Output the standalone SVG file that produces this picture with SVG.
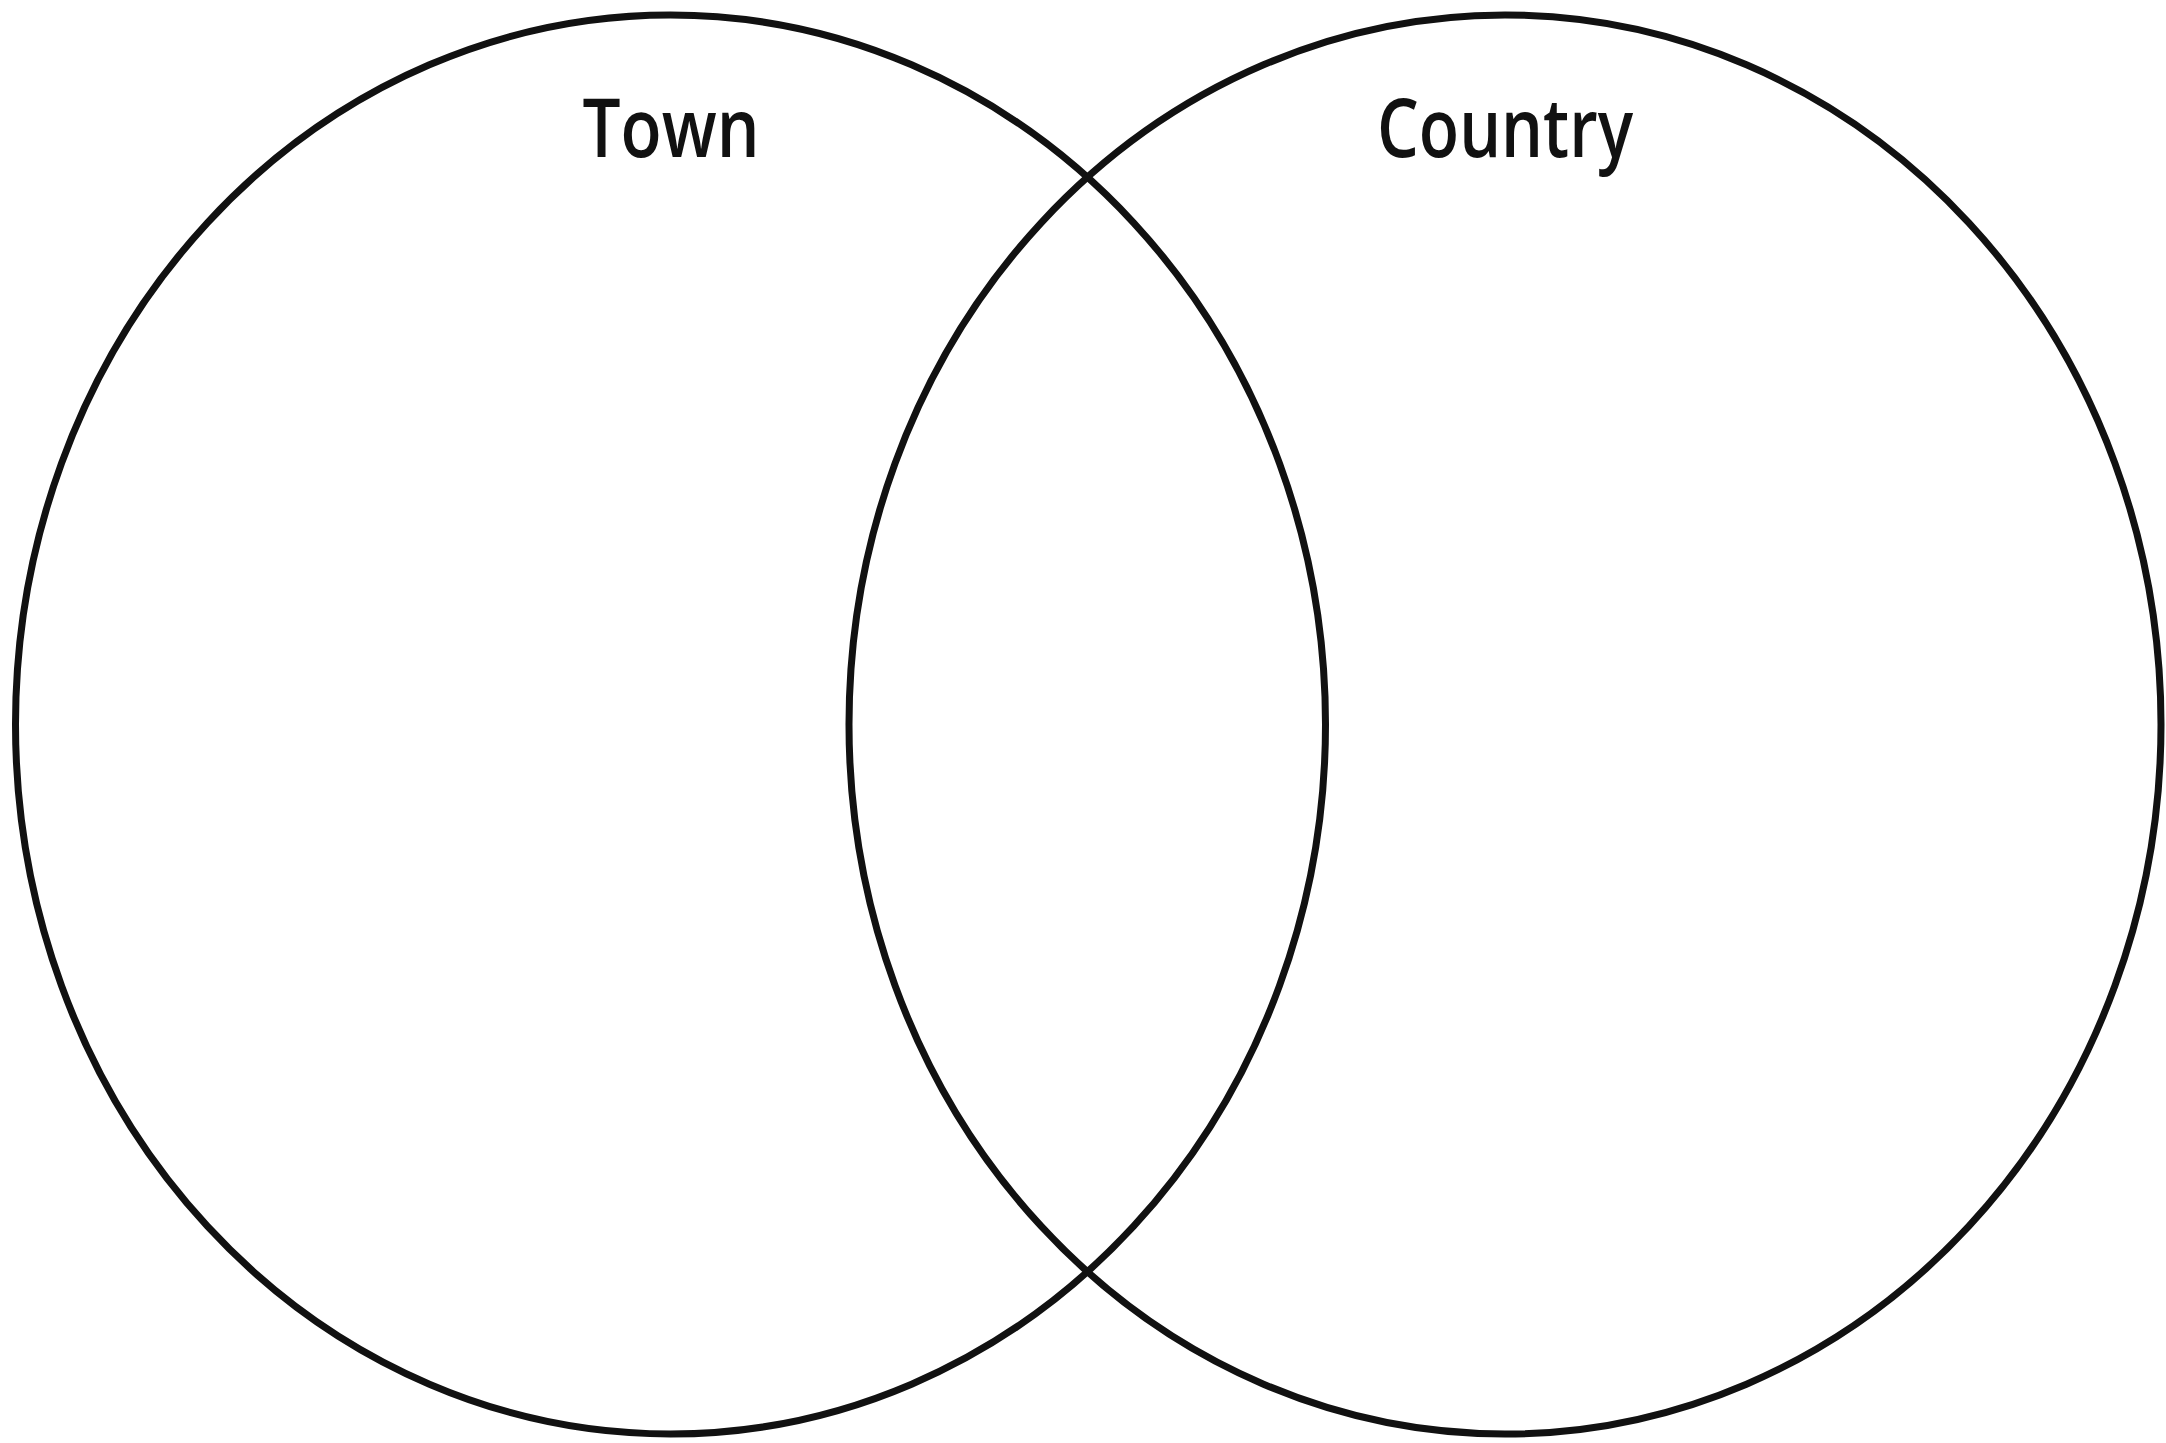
<svg xmlns="http://www.w3.org/2000/svg" width="2166" height="1443" viewBox="0 0 2166 1443">
<style>
.set{fill:none;stroke:#111;stroke-width:7}
.lbl{font-family:"Open Sans","Noto Sans","Liberation Sans",sans-serif;font-size:82px;font-weight:600;fill:#111;text-anchor:middle}
</style>
<rect width="2166" height="1443" fill="#fff"/>
<g id="town">
<ellipse class="set" cx="670.5" cy="724.5" rx="655" ry="709.5"/>
<text class="lbl" x="671" y="157" textLength="177" lengthAdjust="spacingAndGlyphs">Town</text>
</g>
<g id="country">
<ellipse class="set" cx="1505" cy="724.5" rx="656" ry="709.5"/>
<text class="lbl" x="1505" y="157" textLength="256" lengthAdjust="spacingAndGlyphs">Country</text>
</g>
<g id="connectors"></g>
</svg>
